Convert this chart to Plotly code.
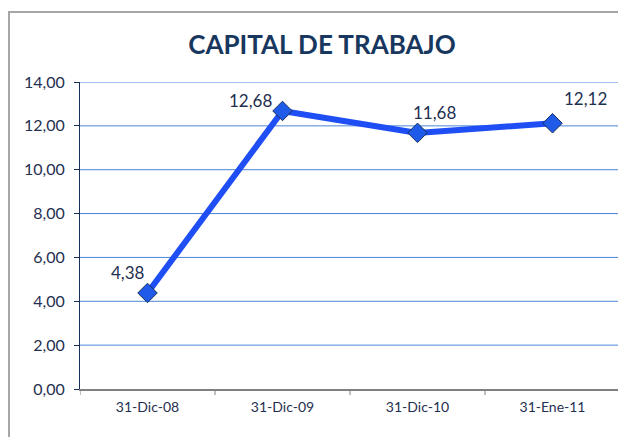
import plotly.graph_objects as go

categories = ["31-Dic-08", "31-Dic-09", "31-Dic-10", "31-Ene-11"]
values = [4.38, 12.68, 11.68, 12.12]
y_ticks = [0, 2, 4, 6, 8, 10, 12, 14]
y_tick_labels = [f"{v:.2f}".replace(".", ",") for v in y_ticks]
point_labels = [f"{v:.2f}".replace(".", ",") for v in values]
label_shifts = [(-20, 20), (-32, 10), (17, 20), (33, 25)]

OFF = 8  # page body offset
W, H = 626 - OFF, 437 - OFF
L, T = 80 - OFF, 82 - OFF
R = W - (620 - OFF)
B = H - (389 - OFF)
pw, ph = W - L - R, H - T - B

fig = go.Figure()

# horizontal gridlines (drawn below the data)
for v in y_ticks[1:]:
    fig.add_shape(type="line", xref="paper", yref="y", x0=0, x1=1, y0=v, y1=v,
                  line=dict(color="#4A86D8", width=1), layer="below")

fig.add_trace(go.Scatter(
    x=categories, y=values, mode="lines+markers",
    line=dict(color="#1F4EF5", width=6),
    marker=dict(symbol="diamond", size=15, color="#1F5AE8",
                line=dict(color="#1A2E5A", width=1)),
    cliponaxis=False, showlegend=False,
))

for cat, txt, val, (dx, dy) in zip(categories, point_labels, values, label_shifts):
    fig.add_annotation(x=cat, y=val, text=txt, showarrow=False,
                       xshift=dx, yshift=dy,
                       font=dict(family="Lato, Open Sans, sans-serif", size=17, color="#1F3050"))

fig.update_layout(
    width=W, height=H,
    margin=dict(l=L, r=R, t=T, b=B, autoexpand=False),
    paper_bgcolor="white", plot_bgcolor="white",
    title=dict(text="<b>CAPITAL DE TRABAJO</b>", x=(322 - OFF) / W, xanchor="center",
               y=1 - (45 - OFF) / H, yanchor="middle",
               font=dict(family="Lato, Open Sans, sans-serif", size=26, color="#17375E")),
    font=dict(family="Lato, Open Sans, sans-serif", size=13, color="#1F3050"),
)
fig.update_xaxes(
    type="category", range=[-0.5, 3.5], showgrid=False, automargin=False,
    showline=True, linecolor="#808080", linewidth=2,
    ticks="outside", ticklen=0, tickfont=dict(size=14, color="#1F3050"),
    ticklabelstandoff=4,
)
fig.update_yaxes(
    range=[0, 14], tickvals=y_ticks, ticktext=y_tick_labels, automargin=False,
    showgrid=False,
    showline=True, linecolor="#1A2E5A", linewidth=1,
    ticks="outside", ticklen=5, tickcolor="#1A2E5A",
    tickfont=dict(size=16, color="#1F3050"), zeroline=False,
    ticklabelstandoff=6,
)

# category separator ticks on x axis
for i in range(len(categories) + 1):
    fig.add_shape(type="line", xref="x", yref="paper",
                  x0=i - 0.5, x1=i - 0.5, y0=0, y1=-6 / ph,
                  line=dict(color="#808080", width=1))

# chart area border
fig.add_shape(type="rect", xref="paper", yref="paper",
              x0=(9 - 80) / pw, x1=(W + 20 - L) / pw,
              y0=-(B + 30) / ph, y1=(389 - 12) / ph,
              line=dict(color="#A6A6A6", width=2), fillcolor="rgba(0,0,0,0)",
              layer="below")

fig.write_html("out.html")
